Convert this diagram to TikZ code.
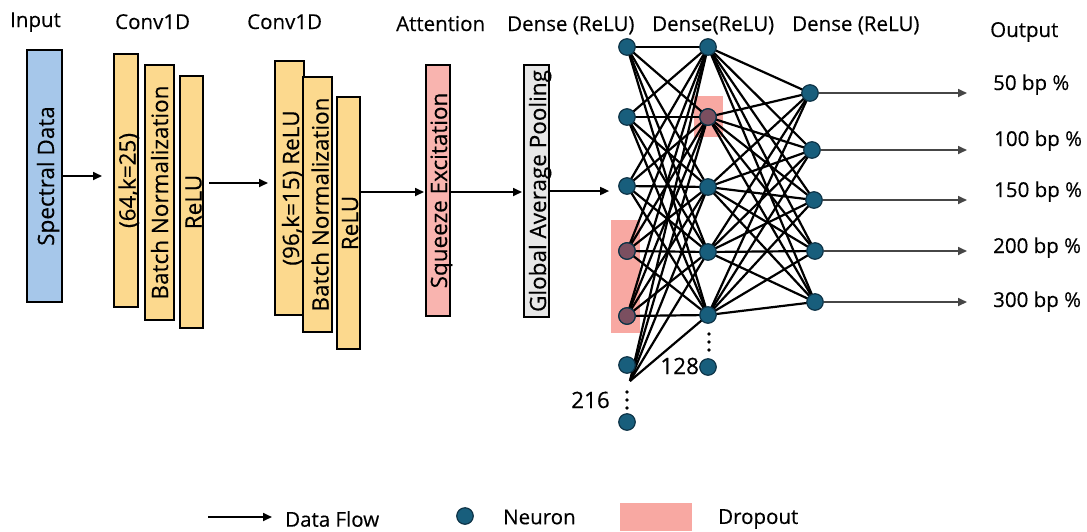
\documentclass[tikz,border=0pt]{standalone}
\usepackage{fontspec}
\setmainfont{Open Sans}[FakeBold=0.3]
\usetikzlibrary{arrows.meta,backgrounds}

\definecolor{specblue}{RGB}{166,199,234}
\definecolor{convgold}{RGB}{252,217,142}
\definecolor{sepink}{RGB}{249,180,175}
\definecolor{gapgrey}{RGB}{231,231,231}
\definecolor{droppink}{RGB}{248,168,162}
\definecolor{neuronteal}{RGB}{24,94,124}
\definecolor{neuronedge}{RGB}{14,52,72}
\definecolor{droppedneuron}{RGB}{123,79,96}
\definecolor{outgrey}{RGB}{70,70,70}

\begin{document}
\begin{tikzpicture}[x=1pt,y=-1pt,
  every node/.style={font=\fontsize{20.5}{24}\selectfont,inner sep=0pt},
  block/.style={draw=black,line width=2pt,inner sep=0pt},
  % rotated label, its baseline set a little inside the block's right edge
  blocktext/.style={rotate=90,anchor=base,inner sep=0pt,font=\fontsize{22.5}{26}\selectfont},
  head/.style={anchor=base west},
  flow/.style={line width=1.7pt,-{Triangle[length=9pt,width=8pt]}},
  outarrow/.style={draw=outgrey,line width=1.7pt,-{Triangle[length=9pt,width=8pt]}},
  link/.style={line width=2.2pt,black},
  neuron/.style={circle,fill=neuronteal,draw=neuronedge,line width=1.2pt,minimum size=16.5pt,inner sep=0pt},
  dropped/.style={neuron,fill=droppedneuron},
  droprect/.style={fill=droppink,draw=none,inner sep=0pt},
  count/.style={anchor=base east,font=\fontsize{22.5}{26}\selectfont},
  vdot/.style={fill=black}
]
\useasboundingbox (0,0) rectangle (1087,531);

% column headers
\node[head] (hIn)  at (10,27)  {Input};
\node[head] (hC1)  at (115,29) {Conv1D};
\node[head] (hC2)  at (247,29) {Conv1D};
\node[head] (hAt)  at (396,31) {Attention};
\node[head] (hD1)  at (507,31) {Dense (ReLU)};
\node[head] (hD2)  at (652,31) {Dense(ReLU)};
\node[head] (hD3)  at (792,31) {Dense (ReLU)};
\node[head] (hOut) at (990,37) {Output};

% feature-extraction blocks
\node[block,fill=specblue,minimum width=35pt,minimum height=252pt] (spec) at (44.5,176) {};
\node[blocktext] (specT) at ([xshift=-9pt]spec.east) {Spectral Data};

\node[block,fill=convgold,minimum width=24pt,minimum height=253pt] (c1a) at (126,180.5) {};
\node[blocktext] (c1aT) at ([xshift=-3.5pt]c1a.east) {(64,k=25)};
\node[block,fill=convgold,minimum width=29pt,minimum height=255pt] (c1b) at (159.5,192.5) {};
\node[blocktext] (c1bT) at ([xshift=-7pt]c1b.east) {Batch Normalization};
\node[block,fill=convgold,minimum width=23pt,minimum height=252pt] (c1c) at (191.5,202) {};
\node[blocktext] (c1cT) at ([xshift=-2.5pt]c1c.east) {ReLU};

\node[block,fill=convgold,minimum width=29pt,minimum height=254pt] (c2a) at (289.5,188) {};
\node[blocktext] (c2aT) at ([xshift=-6pt]c2a.east) {(96,k=15) ReLU};
\node[block,fill=convgold,minimum width=29pt,minimum height=255pt] (c2b) at (317.5,204.5) {};
\node[blocktext] (c2bT) at ([xshift=-4.5pt]c2b.east) {Batch Normalization};
\node[block,fill=convgold,minimum width=23pt,minimum height=252pt] (c2c) at (348.5,223) {};
\node[blocktext] (c2cT) at ([xshift=-3pt]c2c.east) {ReLU};

\node[block,fill=sepink,minimum width=24pt,minimum height=251pt] (sq) at (438,190.5) {};
\node[blocktext] (sqT) at ([xshift=-4pt]sq.east) {Squeeze Excitation};
\node[block,fill=gapgrey,minimum width=25pt,minimum height=252pt] (gap) at (536.5,191) {};
\node[blocktext] (gapT) at ([xshift=-4pt]gap.east) {Global Average Pooling};

% first dense layer
\foreach \i/\y in {1/47,2/117,3/186,4/251,5/316,6/365,7/422}
  \node[neuron] (a\i) at (627,\y) {};
\node[dropped] (a4) at (627,251) {};
\node[dropped] (a5) at (627,316) {};
\coordinate (hub) at (630,381);
\foreach \y in {392,400,408} \fill[vdot] (627,\y) circle (1.9pt);
\node[count] (n216) at (610,408) {216};

% second dense layer
\foreach \i/\y in {1/47,2/117,3/187,4/252,5/315,6/367}
  \node[neuron] (b\i) at (708,\y) {};
\node[dropped] (b2) at (708,117) {};
\foreach \y in {334,342,350} \fill[vdot] (709,\y) circle (1.9pt);
\node[count] (n128) at (b6.west |- 0,374) {128};

% output layer
\node[neuron] (c1) at (810,93) {};
\node[neuron] (c2) at (812,150) {};
\node[neuron] (c3) at (814,200) {};
\node[neuron] (c4) at (815,251) {};
\node[neuron] (c5) at (815,302) {};

% output labels
\node[head] (o1) at (993,90)  {50 bp \%};
\node[head] (o2) at (994,146) {100 bp \%};
\node[head] (o3) at (994,197) {150 bp \%};
\node[head] (o4) at (993,253) {200 bp \%};
\node[head] (o5) at (993,307) {300 bp \%};
\coordinate (outend) at (967,0);
\foreach \j in {1,...,5} \draw[outarrow] (c\j) -- (c\j -| outend);

% dropout masks and dense connections, kept behind the neurons
\begin{scope}[on background layer]
  \node[droprect,minimum width=29pt,minimum height=113pt] (dropA) at (625.5,276.5) {};
  \node[droprect,minimum width=29pt,minimum height=41pt] (dropB) at (708.5,116.5) {};
  \foreach \i in {1,...,5}
    \foreach \j in {1,...,5}
      \draw[link] (a\i.center) -- (b\j.center);
  \foreach \j in {1,...,5} \draw[link] (hub) -- (b\j.center);
  \foreach \i in {1,...,5}
    \foreach \j in {1,...,5}
      \draw[link] (b\i.center) -- (c\j.center);
\end{scope}

% data-flow arrows between blocks
\draw[flow,shorten >=11pt] (spec.east) -- (spec.east -| c1a.west);
\draw[flow,shorten <=5pt,shorten >=6pt] ([yshift=19pt]c1c.east) -- ([yshift=19pt]c1c.east -| c2a.west);
\draw[flow,shorten >=1pt] ([yshift=31pt]c2c.east) -- ([yshift=31pt]c2c.east -| sq.west);
\draw[flow,shorten >=1pt] ([yshift=-1.5pt]sq.east) -- ([yshift=-1.5pt]sq.east -| gap.west);
\draw[flow,shorten >=9pt] (gap.east) -- (gap.east -| a3.west);

% legend
\coordinate (lgA) at (208,517);
\coordinate (lgB) at (272,517);
\draw[flow] (lgA) -- (lgB);
\node[anchor=west] (lgFlowT) at (285,519) {Data Flow};
\node[neuron] (lgNeuron) at (465,516) {};
\node[anchor=west] (lgNeuronT) at (503,517) {Neuron};
\node[droprect,minimum width=72pt,minimum height=28pt] (lgDrop) at (656,517) {};
\node[anchor=west] (lgDropT) at (718,519) {Dropout};
\end{tikzpicture}
\end{document}
